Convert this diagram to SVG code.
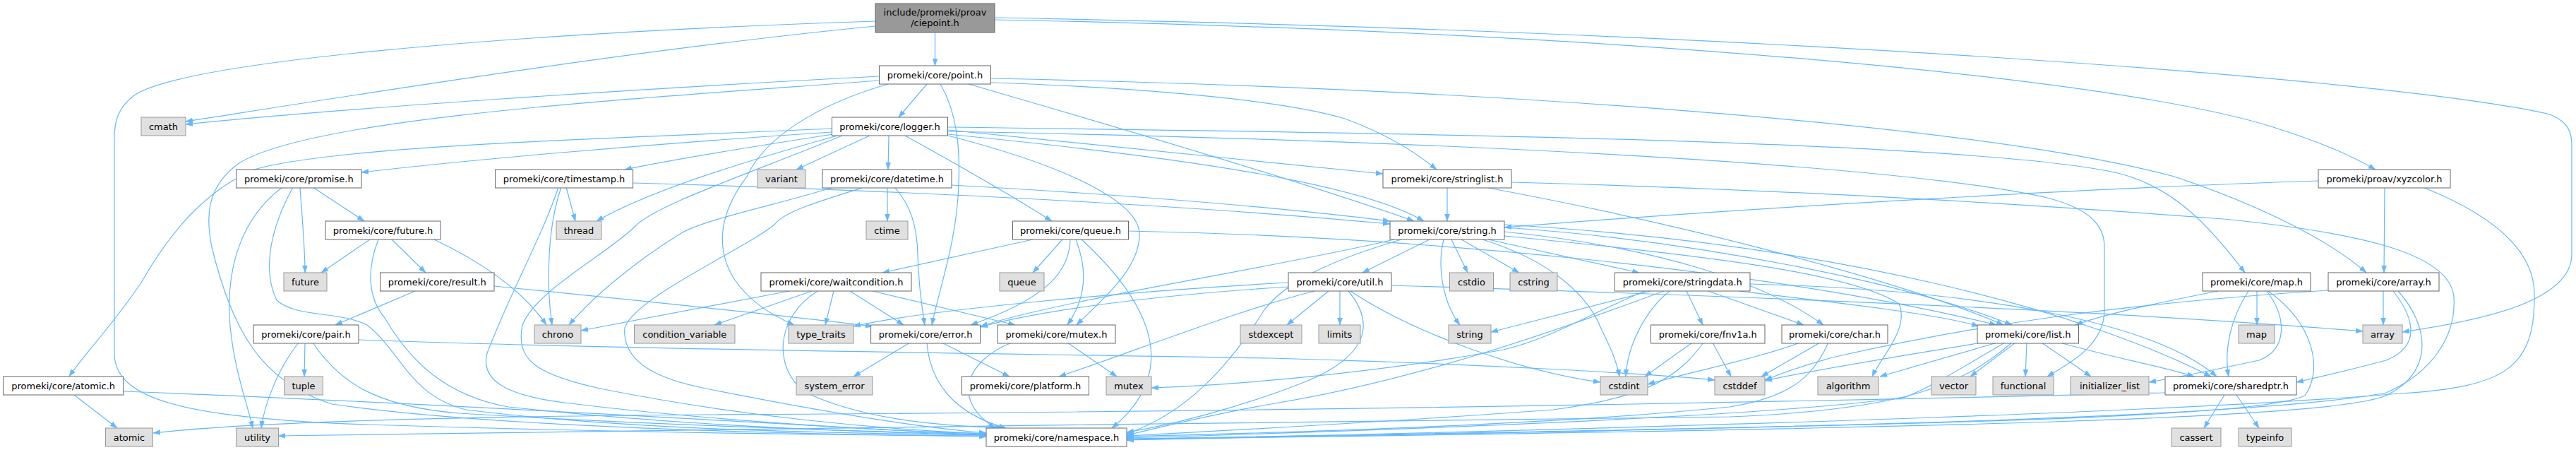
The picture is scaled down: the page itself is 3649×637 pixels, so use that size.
<svg xmlns="http://www.w3.org/2000/svg" width="3649" height="637" viewBox="0 0 3649 637">
<style>
text{font-family:"DejaVu Sans","Liberation Sans",sans-serif;font-size:13px;text-anchor:middle;fill:#000}
.n rect{fill:#fff;stroke:#666;stroke-width:1}
.s rect{fill:#e0e0e0;stroke:#999;stroke-width:1}
.r rect{fill:#999;stroke:#666;stroke-width:1}
#edges path{fill:none;stroke:#63b8ff;stroke-width:1.2;marker-end:url(#a)}
</style>
<defs>
<marker id="a" markerWidth="10" markerHeight="8" refX="10" refY="4" orient="auto" markerUnits="userSpaceOnUse"><path d="M0,0.5 L10,4 L0,7.5 z" fill="#63b8ff" stroke="#63b8ff" stroke-width="0.5"/></marker>
</defs>
<rect x="0" y="0" width="3649" height="637" fill="#fff"/>
<g id="edges">
<path d="M1324.5,46 L1324.5,93"/>
<path d="M1240,37 C900,70 500,135 263,172"/>
<path d="M1240,30 C700,48 260,88 190,135 C168,152 162,170 162,195 L162,500 C162,565 260,592 520,601 C900,613 1200,616 1397,617"/>
<path d="M1409,28 C2300,45 3000,110 3220,180 C3290,202 3330,220 3365,240"/>
<path d="M1409,25 C2500,45 3400,112 3612,162 C3637,172 3643,186 3643,205 L3643,360 C3643,430 3500,456 3403,470"/>
<path d="M1313,119 L1273,166"/>
<path d="M1245,108 C900,126 500,152 263,176"/>
<path d="M1245,114 C900,140 450,165 340,230 C290,265 292,310 300,350 C330,470 370,540 470,572 C700,605 1100,614 1397,618"/>
<path d="M1332,119 C1356,160 1360,210 1358,260 C1356,340 1330,410 1320,460"/>
<path d="M1258,119 C1150,150 1080,200 1058,250 C1020,300 1012,350 1040,395 C1060,425 1090,445 1125,460"/>
<path d="M1404,117 C1650,125 1830,145 1905,168 C1965,190 2005,215 2035,240"/>
<path d="M1372,119 C1600,185 1860,262 2003,313"/>
<path d="M1404,111 C2100,125 2800,175 3080,250 C3200,290 3300,340 3352,386"/>
<path d="M1178,187 C900,205 650,228 512,244"/>
<path d="M1178,182 C900,195 480,205 360,240 C290,270 240,330 200,400 C160,460 120,500 98,533"/>
<path d="M1193,192 C1050,250 930,290 900,320 C860,360 760,410 740,460 C730,510 760,530 850,550 C1050,590 1250,608 1397,614"/>
<path d="M1180,190 C1050,210 950,226 885,240"/>
<path d="M1186,192 C1050,230 920,270 845,313"/>
<path d="M1232,192 L1128,240"/>
<path d="M1259,192 L1258,240"/>
<path d="M1282,192 C1360,235 1430,275 1490,313"/>
<path d="M1343,184 C1600,210 1820,232 1959,246"/>
<path d="M1343,190 C1700,225 1930,262 2017,313"/>
<path d="M1343,180 C2000,188 2800,200 3000,245 C3080,265 3130,320 3180,386"/>
<path d="M1343,186 C2100,200 2700,235 2900,280 C2962,296 2981,320 2981,350 L2981,440 C2980,490 2930,515 2900,533"/>
<path d="M1343,192 C1530,240 1612,290 1614,330 C1616,380 1560,425 1525,460"/>
<path d="M443,265 L516,313"/>
<path d="M425,265 C428,310 432,350 432,386"/>
<path d="M400,265 C340,310 322,380 325,450 C330,520 350,570 358,606"/>
<path d="M415,265 C385,320 370,380 392,425 C420,450 480,440 520,460 C570,500 580,560 660,580 C900,610 1200,613 1397,616"/>
<path d="M524,339 L455,386"/>
<path d="M555,339 L603,386"/>
<path d="M536,339 C520,380 520,420 545,450 C580,510 630,560 720,576 C1000,606 1250,612 1397,616"/>
<path d="M615,339 C680,370 740,410 774,460"/>
<path d="M588,412 L475,460"/>
<path d="M700,405 C900,425 1100,445 1236,462"/>
<path d="M432,485 L431,533"/>
<path d="M423,485 C395,520 375,570 370,606"/>
<path d="M443,485 C480,540 530,575 650,585 C900,600 1200,610 1397,615"/>
<path d="M508,481 C900,495 1400,500 1800,507 C2100,515 2350,530 2429,538"/>
<path d="M105,559 L166,606"/>
<path d="M175,554 C600,570 1100,600 1397,616"/>
<path d="M802,265 L815,313"/>
<path d="M795,265 C776,320 773,400 782,460"/>
<path d="M791,265 C770,330 720,420 690,500 C680,540 720,560 800,570 C1000,595 1250,610 1397,614"/>
<path d="M897,259 C1300,270 1700,292 1969,317"/>
<path d="M1257,265 L1257,313"/>
<path d="M1181,265 C1100,290 1000,310 965,330 C900,370 840,420 806,460"/>
<path d="M1224,265 C1160,285 1110,300 1098,317 C1060,350 900,420 885,464 C880,520 950,540 1000,550 C1150,580 1300,605 1397,613"/>
<path d="M1267,265 C1290,290 1299,320 1300,360 C1301,400 1305,430 1310,460"/>
<path d="M1348,262 C1600,276 1800,292 1969,313"/>
<path d="M1463,339 L1250,386"/>
<path d="M1505,339 L1463,386"/>
<path d="M1516,339 C1515,380 1490,420 1375,460"/>
<path d="M1524,339 C1540,380 1540,420 1512,460"/>
<path d="M1532,339 C1620,420 1680,520 1575,606"/>
<path d="M1598,327 C2000,335 2500,380 2828,460"/>
<path d="M1118,412 L823,468"/>
<path d="M1150,412 L1012,460"/>
<path d="M1181,412 L1169,460"/>
<path d="M1236,412 L1438,460"/>
<path d="M1204,412 L1280,460"/>
<path d="M1158,412 C1098,450 1095,520 1140,555 C1230,598 1350,603 1420,606"/>
<path d="M1289,485 L1209,533"/>
<path d="M1334,485 L1430,533"/>
<path d="M1313,485 C1317,540 1350,585 1425,606"/>
<path d="M1512,485 L1582,533"/>
<path d="M1433,485 C1370,510 1345,565 1410,606"/>
<path d="M1882,412 L1823,460"/>
<path d="M1898,412 L1898,460"/>
<path d="M1825,400 C1600,412 1300,440 1209,462"/>
<path d="M1825,406 C1600,420 1450,445 1389,463"/>
<path d="M1862,412 C1750,440 1600,500 1500,533"/>
<path d="M1913,412 C2000,470 2150,525 2267,541"/>
<path d="M1910,412 C1950,460 1935,505 1850,540 C1750,580 1650,603 1596,612"/>
<path d="M1971,404 C2500,420 3000,440 3347,469"/>
<path d="M2025,339 L1930,386"/>
<path d="M2045,339 C2035,380 2045,430 2068,460"/>
<path d="M2056,339 L2079,386"/>
<path d="M2070,339 L2152,386"/>
<path d="M2100,339 C2200,370 2250,420 2268,465 C2280,490 2290,510 2294,533"/>
<path d="M2108,339 L2322,386"/>
<path d="M1975,339 C1800,380 1500,425 1389,462"/>
<path d="M1985,339 C1880,370 1820,400 1790,440 C1740,520 1680,585 1596,614"/>
<path d="M2131,322 C2400,340 2700,400 2850,460"/>
<path d="M2131,328 C2350,350 2500,400 2583,460"/>
<path d="M2131,334 C2400,360 2620,385 2690,430 C2705,465 2665,505 2652,533"/>
<path d="M2131,318 C2600,345 2950,440 3132,533"/>
<path d="M2338,412 L2112,470"/>
<path d="M2365,412 C2330,440 2305,490 2303,533"/>
<path d="M2389,412 L2412,460"/>
<path d="M2357,412 C2200,470 2000,540 1800,572 C1700,590 1640,606 1596,616"/>
<path d="M2330,412 C2250,445 2200,478 2130,495 C1950,528 1750,545 1631,549"/>
<path d="M2420,412 L2555,460"/>
<path d="M2463,412 C2600,428 2750,445 2803,462"/>
<path d="M2479,402 C2800,410 3050,455 3140,533"/>
<path d="M2397,485 L2330,533"/>
<path d="M2426,485 L2452,533"/>
<path d="M2413,485 C2380,530 2340,562 2200,580 C1900,602 1700,611 1596,617"/>
<path d="M2550,485 C2480,510 2400,525 2334,544"/>
<path d="M2578,485 L2495,533"/>
<path d="M2590,485 C2570,530 2540,562 2450,576 C2200,602 1800,613 1596,618"/>
<path d="M2807,485 C2700,503 2560,525 2500,539"/>
<path d="M2829,485 L2663,533"/>
<path d="M2855,485 L2791,533"/>
<path d="M2871,485 L2869,533"/>
<path d="M2892,485 L2962,533"/>
<path d="M2840,485 C2780,520 2740,545 2700,562 C2500,592 1900,611 1596,620"/>
<path d="M2918,485 C3000,508 3060,518 3108,533"/>
<path d="M2850,485 C2780,545 2700,580 2450,590 C1800,600 1000,605 394,617"/>
<path d="M3197,412 L3197,460"/>
<path d="M3142,412 C3050,430 2980,445 2940,460"/>
<path d="M3185,412 C3160,450 3150,495 3157,533"/>
<path d="M3211,412 C3240,450 3240,495 3200,510 C3130,525 3080,535 3044,541"/>
<path d="M3213,412 C3280,460 3290,525 3265,560 C3200,590 2800,602 1596,621"/>
<path d="M3376,412 L3376,460"/>
<path d="M3390,412 C3420,450 3430,490 3380,510 C3320,526 3280,535 3253,541"/>
<path d="M3397,412 C3440,460 3450,525 3380,560 C3300,592 2800,606 1596,622"/>
<path d="M3298,411 C3000,430 2800,460 2600,505 C2550,518 2520,530 2500,538"/>
<path d="M3378,265 L3377,386"/>
<path d="M3284,256 C3000,265 2500,292 2131,322"/>
<path d="M3432,265 C3520,300 3592,350 3590,420 C3590,520 3550,548 3400,557 C3100,582 2500,602 1596,623"/>
<path d="M2050,265 L2050,313"/>
<path d="M2103,265 C2400,320 2700,400 2838,460"/>
<path d="M2141,258 C2600,270 2950,295 3150,310 C3350,330 3470,360 3476,420 C3480,480 3440,530 3380,556 C3200,590 2600,606 1596,622"/>
<path d="M3151,559 L3122,606"/>
<path d="M3168,559 L3200,606"/>
<path d="M3067,556 C2500,570 1800,583 1000,587 C600,590 350,598 217,613"/>
</g>
<g id="root" class="r"><rect x="1240" y="5" width="169" height="41"/><text x="1324.5" y="21.5">include/promeki/proav</text><text x="1324.5" y="36.5">/ciepoint.h</text></g>
<g id="point" class="n"><rect x="1245.5" y="93" width="158" height="26"/><text x="1324.5" y="110.5">promeki/core/point.h</text></g>
<g id="cmath" class="s"><rect x="200" y="166" width="63" height="26"/><text x="231.5" y="183.5">cmath</text></g>
<g id="logger" class="n"><rect x="1178.5" y="166" width="164" height="26"/><text x="1260.5" y="183.5">promeki/core/logger.h</text></g>
<g id="promise" class="n"><rect x="334.5" y="240" width="177.5" height="26"/><text x="423.3" y="257.5">promeki/core/promise.h</text></g>
<g id="timestamp" class="n"><rect x="701.6" y="240" width="195" height="26"/><text x="799.1" y="257.5">promeki/core/timestamp.h</text></g>
<g id="variant" class="s"><rect x="1073" y="240" width="68" height="26"/><text x="1107" y="257.5">variant</text></g>
<g id="datetime" class="n"><rect x="1165" y="240" width="183" height="26"/><text x="1256.5" y="257.5">promeki/core/datetime.h</text></g>
<g id="stringlist" class="n"><rect x="1959" y="240" width="182" height="26"/><text x="2050" y="257.5">promeki/core/stringlist.h</text></g>
<g id="xyzcolor" class="n"><rect x="3284" y="240" width="187" height="26"/><text x="3377.5" y="257.5">promeki/proav/xyzcolor.h</text></g>
<g id="futureh" class="n"><rect x="461" y="313" width="163" height="26"/><text x="542.5" y="330.5">promeki/core/future.h</text></g>
<g id="thread" class="s"><rect x="788" y="313" width="64" height="26"/><text x="820" y="330.5">thread</text></g>
<g id="ctime" class="s"><rect x="1227" y="313" width="59" height="26"/><text x="1256.5" y="330.5">ctime</text></g>
<g id="queueh" class="n"><rect x="1434.5" y="313" width="164" height="26"/><text x="1516.5" y="330.5">promeki/core/queue.h</text></g>
<g id="stringh" class="n"><rect x="1969" y="313" width="162" height="26"/><text x="2050" y="330.5">promeki/core/string.h</text></g>
<g id="future" class="s"><rect x="402" y="386" width="61" height="26"/><text x="432.5" y="403.5">future</text></g>
<g id="result" class="n"><rect x="538.5" y="386" width="161.5" height="26"/><text x="619.3" y="403.5">promeki/core/result.h</text></g>
<g id="waitcondition" class="n"><rect x="1078" y="386" width="213" height="26"/><text x="1184.5" y="403.5">promeki/core/waitcondition.h</text></g>
<g id="queue" class="s"><rect x="1416" y="386" width="63" height="26"/><text x="1447.5" y="403.5">queue</text></g>
<g id="util" class="n"><rect x="1825" y="386" width="146" height="26"/><text x="1898" y="403.5">promeki/core/util.h</text></g>
<g id="cstdio" class="s"><rect x="2053.5" y="386" width="62" height="26"/><text x="2084.5" y="403.5">cstdio</text></g>
<g id="cstring" class="s"><rect x="2139" y="386" width="67" height="26"/><text x="2172.5" y="403.5">cstring</text></g>
<g id="stringdata" class="n"><rect x="2287.5" y="386" width="191.5" height="26"/><text x="2383.3" y="403.5">promeki/core/stringdata.h</text></g>
<g id="maph" class="n"><rect x="3120" y="386" width="153" height="26"/><text x="3196.5" y="403.5">promeki/core/map.h</text></g>
<g id="arrayh" class="n"><rect x="3298" y="386" width="157" height="26"/><text x="3376.5" y="403.5">promeki/core/array.h</text></g>
<g id="pair" class="n"><rect x="359" y="460" width="149" height="26"/><text x="433.5" y="477.5">promeki/core/pair.h</text></g>
<g id="chrono" class="s"><rect x="757" y="460" width="66" height="26"/><text x="790" y="477.5">chrono</text></g>
<g id="condvar" class="s"><rect x="898.5" y="460" width="142.5" height="26"/><text x="969.8" y="477.5">condition_variable</text></g>
<g id="type_traits" class="s"><rect x="1117" y="460" width="92" height="26"/><text x="1163" y="477.5">type_traits</text></g>
<g id="error" class="n"><rect x="1233.6" y="460" width="155" height="26"/><text x="1311.1" y="477.5">promeki/core/error.h</text></g>
<g id="mutexh" class="n"><rect x="1413" y="460" width="167" height="26"/><text x="1496.5" y="477.5">promeki/core/mutex.h</text></g>
<g id="stdexcept" class="s"><rect x="1757" y="460" width="87" height="26"/><text x="1800.5" y="477.5">stdexcept</text></g>
<g id="limits" class="s"><rect x="1868" y="460" width="59" height="26"/><text x="1897.5" y="477.5">limits</text></g>
<g id="string" class="s"><rect x="2052" y="460" width="60" height="26"/><text x="2082" y="477.5">string</text></g>
<g id="fnv1a" class="n"><rect x="2338.5" y="460" width="161.5" height="26"/><text x="2419.3" y="477.5">promeki/core/fnv1a.h</text></g>
<g id="char" class="n"><rect x="2524" y="460" width="150" height="26"/><text x="2599" y="477.5">promeki/core/char.h</text></g>
<g id="list" class="n"><rect x="2801" y="460" width="143.5" height="26"/><text x="2872.8" y="477.5">promeki/core/list.h</text></g>
<g id="map" class="s"><rect x="3171" y="460" width="51" height="26"/><text x="3196.5" y="477.5">map</text></g>
<g id="array" class="s"><rect x="3347" y="460" width="56" height="26"/><text x="3375" y="477.5">array</text></g>
<g id="atomich" class="n"><rect x="4.7" y="533" width="170" height="26"/><text x="89.7" y="550.5">promeki/core/atomic.h</text></g>
<g id="tuple" class="s"><rect x="402.5" y="533" width="55" height="26"/><text x="430" y="550.5">tuple</text></g>
<g id="system_error" class="s"><rect x="1128" y="533" width="108" height="26"/><text x="1182" y="550.5">system_error</text></g>
<g id="platform" class="n"><rect x="1362.5" y="533" width="180" height="26"/><text x="1452.5" y="550.5">promeki/core/platform.h</text></g>
<g id="mutex" class="s"><rect x="1567" y="533" width="64" height="26"/><text x="1599" y="550.5">mutex</text></g>
<g id="cstdint" class="s"><rect x="2267" y="533" width="67" height="26"/><text x="2300.5" y="550.5">cstdint</text></g>
<g id="cstddef" class="s"><rect x="2429" y="533" width="71" height="26"/><text x="2464.5" y="550.5">cstddef</text></g>
<g id="algorithm" class="s"><rect x="2575" y="533" width="86" height="26"/><text x="2618" y="550.5">algorithm</text></g>
<g id="vector" class="s"><rect x="2736" y="533" width="63" height="26"/><text x="2767.5" y="550.5">vector</text></g>
<g id="functional" class="s"><rect x="2823" y="533" width="86" height="26"/><text x="2866" y="550.5">functional</text></g>
<g id="initializer_list" class="s"><rect x="2933" y="533" width="111" height="26"/><text x="2988.5" y="550.5">initializer_list</text></g>
<g id="sharedptr" class="n"><rect x="3067" y="533" width="186" height="26"/><text x="3160" y="550.5">promeki/core/sharedptr.h</text></g>
<g id="atomic" class="s"><rect x="149.5" y="606" width="67" height="26"/><text x="183" y="623.5">atomic</text></g>
<g id="utility" class="s"><rect x="334.5" y="606" width="60" height="26"/><text x="364.5" y="623.5">utility</text></g>
<g id="namespace" class="n"><rect x="1397" y="606" width="199" height="26"/><text x="1496.5" y="623.5">promeki/core/namespace.h</text></g>
<g id="cassert" class="s"><rect x="3076" y="606" width="70" height="26"/><text x="3111" y="623.5">cassert</text></g>
<g id="typeinfo" class="s"><rect x="3171" y="606" width="75" height="26"/><text x="3208.5" y="623.5">typeinfo</text></g>
</svg>
